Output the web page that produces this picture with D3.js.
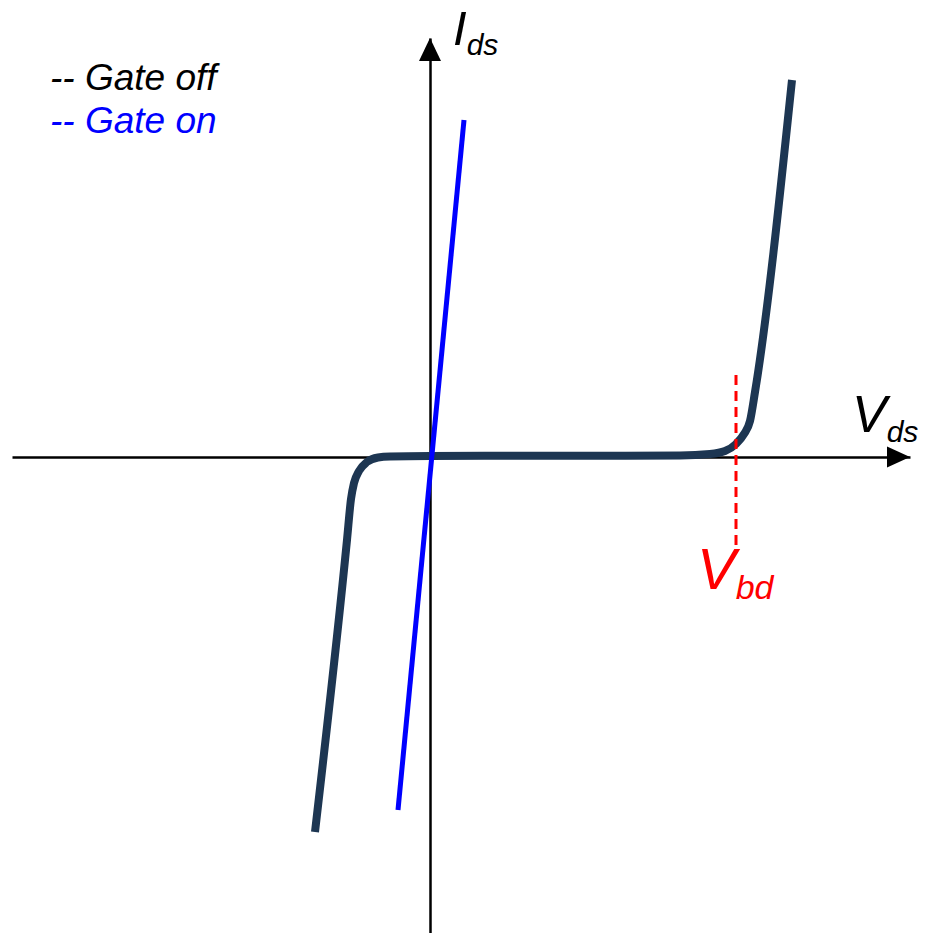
<!DOCTYPE html>
<html>
<head>
<meta charset="utf-8">
<script src="https://cdn.jsdelivr.net/npm/d3@7"></script>
<style>
  body { margin: 0; background: #fff; }
  text { font-family: Arial, "Liberation Sans", sans-serif; font-style: italic; }
</style>
</head>
<body>
<script>
            // Chart size
            var w = 925;
            var h = 933;

            // Gate off curve (Vds, Ids), arbitrary units
            var gateOffV = [-11.5, -8.3, -7.9, -7.6, -7.1, -6.3, -5.2, -4.0, 0, 25, 28.0, 29.5, 30.6, 31.4, 32.0, 32.5, 36.2];
            var gateOffI = [-37.5, -8.3, -4.2, -2.6, -1.4, -0.5, -0.05, 0.05, 0.1, 0.15, 0.3, 0.6, 1.3, 2.3, 3.6, 6.5, 37.7];

            // Gate on line
            var gateOnV = [-3.2, 3.4];
            var gateOnI = [-35.3, 33.7];

            // Breakdown voltage marker
            var vbd = 30.6;
            var vbdSpan = [-8.8, 8.2];

            var legendLabels = ["-- Gate off", "-- Gate on"];
            var legendColors = ["#000000", "#0000ff"];

            var xScale = d3.scaleLinear().domain([-41.8, 48]).range([12, 910]);
            var yScale = d3.scaleLinear().domain([-47.6, 41.9]).range([933, 38]);

            var svg = d3.select("body")
                .append("svg")
                .attr("width", w)
                .attr("height", h);

            // Axes without ticks
            var xAxis = d3.axisBottom(xScale).tickValues([]).tickSizeOuter(0);
            var yAxis = d3.axisLeft(yScale).tickValues([]).tickSizeOuter(0);

            svg.append("g")
                .attr("transform", "translate(0," + yScale(0) + ")")
                .call(xAxis)
                .select(".domain")
                .attr("stroke", "#000")
                .attr("stroke-width", 2.5);

            svg.append("g")
                .attr("transform", "translate(" + xScale(0) + ",0)")
                .call(yAxis)
                .select(".domain")
                .attr("stroke", "#000")
                .attr("stroke-width", 2.5);

            // Arrow heads
            var xEnd = xScale.range()[1];
            var yEnd = yScale.range()[1];
            svg.append("path")
                .attr("d", "M" + xEnd + "," + yScale(0) + "L" + (xEnd - 23) + "," + (yScale(0) - 10.5) +
                    "L" + (xEnd - 23) + "," + (yScale(0) + 10.5) + "Z")
                .attr("fill", "#000");
            svg.append("path")
                .attr("d", "M" + xScale(0) + "," + yEnd + "L" + (xScale(0) - 11) + "," + (yEnd + 23) +
                    "L" + (xScale(0) + 11) + "," + (yEnd + 23) + "Z")
                .attr("fill", "#000");

            var line = d3.line()
                .x(function (d) { return xScale(d[0]); })
                .y(function (d) { return yScale(d[1]); });

            // Gate off curve
            svg.append("path")
                .datum(d3.zip(gateOffV, gateOffI))
                .attr("d", line.curve(d3.curveMonotoneX))
                .attr("fill", "none")
                .attr("stroke", "#1d3652")
                .attr("stroke-width", 8);

            // Gate on line
            svg.append("path")
                .datum(d3.zip(gateOnV, gateOnI))
                .attr("d", line.curve(d3.curveLinear))
                .attr("fill", "none")
                .attr("stroke", "#0000ff")
                .attr("stroke-width", 5);

            // Vbd dashed line (on top of the curve)
            svg.append("line")
                .attr("x1", xScale(vbd))
                .attr("x2", xScale(vbd))
                .attr("y1", yScale(vbdSpan[0]))
                .attr("y2", yScale(vbdSpan[1]))
                .attr("stroke", "#ff0000")
                .attr("stroke-width", 3)
                .attr("stroke-dasharray", "10,6");

            // Legend
            svg.selectAll("text.legend")
                .data(legendLabels)
                .enter()
                .append("text")
                .attr("class", "legend")
                .attr("x", 50)
                .attr("y", function (d, i) { return 90 + i * 43; })
                .attr("font-size", 37)
                .attr("fill", function (d, i) { return legendColors[i]; })
                .text(function (d) { return d; });

            // Axis labels with subscripts
            function subLabel(x, y, main, sub, size, subSize, dy, color) {
                var t = svg.append("text")
                    .attr("x", x)
                    .attr("y", y)
                    .attr("fill", color)
                    .attr("font-size", size);
                t.append("tspan").text(main);
                t.append("tspan")
                    .attr("font-size", subSize)
                    .attr("dy", dy)
                    .text(sub);
            }

            subLabel(453, 45, "I", "ds", 49, 30, 10, "#000");
            subLabel(852, 432, "V", "ds", 52, 30, 10, "#000");
            subLabel(697, 589, "V", "bd", 58, 34, 10, "#ff0000");
</script>
</body>
</html>
